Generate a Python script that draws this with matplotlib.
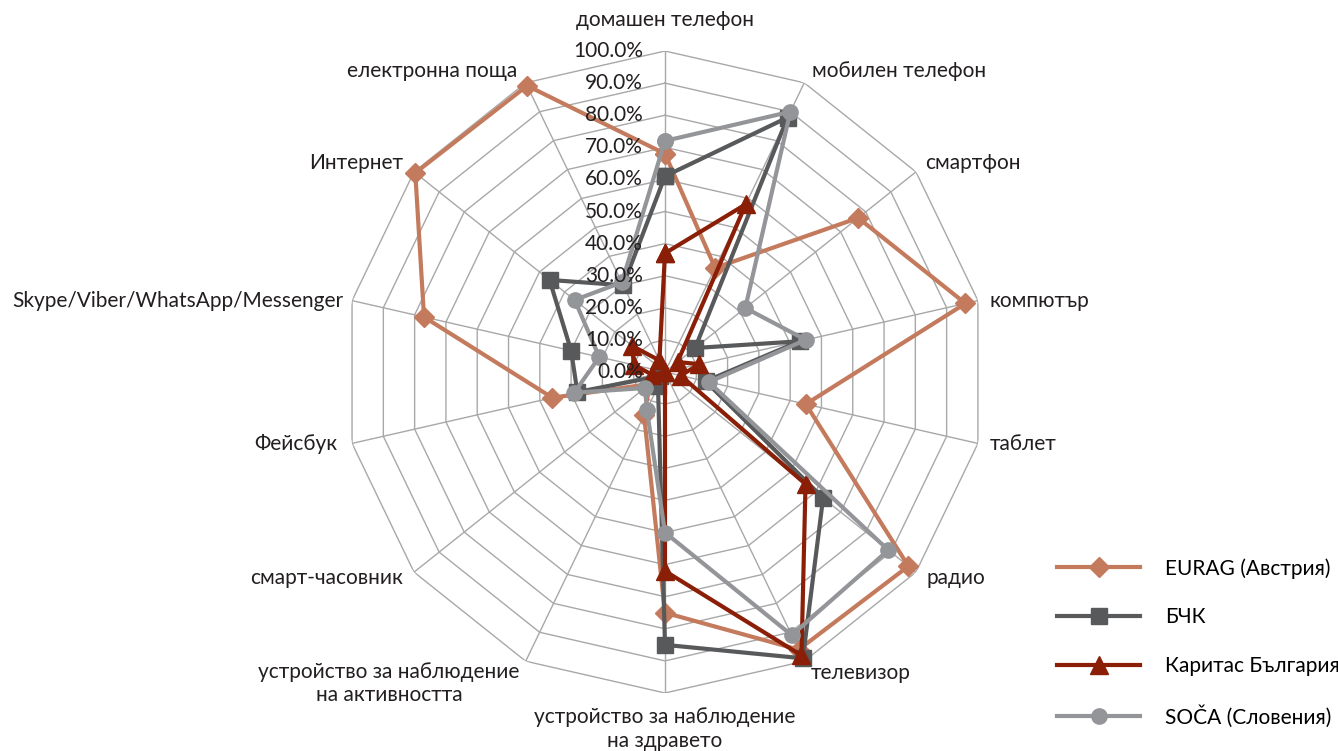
import numpy as np
import matplotlib
matplotlib.use('Agg')
import matplotlib.pyplot as plt

plt.rcParams['font.family'] = ['Lato', 'DejaVu Sans']

# data (percent)
categories = ['домашен телефон', 'мобилен телефон', 'смартфон', 'компютър', 'таблет',
              'радио', 'телевизор', 'устройство за наблюдение\nна здравето',
              'устройство за наблюдение\nна активността', 'смарт-часовник', 'Фейсбук',
              'Skype/Viber/WhatsApp/Messenger', 'Интернет', 'електронна поща']
eurag = [68, 36, 77, 96, 45, 97, 96, 75, 15, 6, 36, 77, 99.5, 99]
bck = [61, 88, 12, 43, 13, 63, 99, 85, 5, 2, 28, 30, 46, 30]
caritas = [37, 58, 5, 11, 5, 56, 98, 62, 0, 0, 4, 10, 13, 4]
soca = [72, 90, 32, 45, 14, 89, 91, 50, 13, 8, 29, 21, 36, 31]
series_names = ['EURAG (Австрия)', 'БЧК', 'Каритас България', 'SOČA (Словения)']
ticks = [0, 10, 20, 30, 40, 50, 60, 70, 80, 90, 100]

colors = ['#c47a5c', '#58595b', '#8b1e07', '#939598']
markers = ['D', 's', '^', 'o']
msizes = [10, 11, 13, 11]
grid_color = '#a8a8a8'

# label offsets (pixels) and alignment per category
lab_off = [(0, 31), (8, 12), (9, 9), (12, 0), (12, -1), (11, -6), (6, -12),
           (0, -36), (-6, -22), (-11, -6), (-15, -1), (-9, 0), (-11, 9), (-8, 12)]
lab_ha = ['center', 'left', 'left', 'left', 'left', 'left', 'left',
          'center', 'right', 'right', 'right', 'right', 'right', 'right']

n = len(categories)
theta = np.arange(n) * 2 * np.pi / n
theta_c = np.append(theta, theta[0])

fig = plt.figure(figsize=(13.38, 7.51), dpi=100)
ax = fig.add_axes([0.2571, 0.0772, 0.4798, 0.8549], projection='polar')
ax.set_theta_zero_location('N')
ax.set_theta_direction(-1)
ax.set_ylim(0, 100)
ax.grid(False)
ax.spines['polar'].set_visible(False)
ax.set_xticks([])
ax.set_yticks([])
ax.patch.set_alpha(0)

# polygon grid
for r in ticks[1:]:
    ax.plot(theta_c, [r] * (n + 1), color=grid_color, lw=1, zorder=1)
for t in theta:
    ax.plot([t, t], [0, 100], color=grid_color, lw=1, zorder=1)

# radial tick labels sit on top of the series
for r in ticks:
    ax.annotate('{:.1f}%'.format(r), xy=(0, r), xytext=(-22, 0),
                textcoords='offset pixels', ha='right', va='center',
                fontsize=15, color='#231f20', zorder=5)

for t, lab, off, ha in zip(theta, categories, lab_off, lab_ha):
    ax.annotate(lab, xy=(t, 100), xytext=off, textcoords='offset pixels',
                ha=ha, va='center', multialignment='center',
                fontsize=15, color='#231f20', annotation_clip=False)

handles = []
for vals, name, c, m, ms in zip([eurag, bck, caritas, soca], series_names,
                                colors, markers, msizes):
    h, = ax.plot(theta_c, vals + vals[:1], color=c, lw=3, marker=m,
                 markersize=ms, markeredgecolor=c, label=name, zorder=3,
                 clip_on=False)
    handles.append(h)

fig.legend(handles, series_names, loc='upper left', bbox_to_anchor=(0.790, 0.257),
           frameon=False, fontsize=15, handlelength=4.0, handletextpad=1.2,
           labelspacing=1.38, borderpad=0, borderaxespad=0, numpoints=1)

fig.savefig('out.png', dpi=100)
